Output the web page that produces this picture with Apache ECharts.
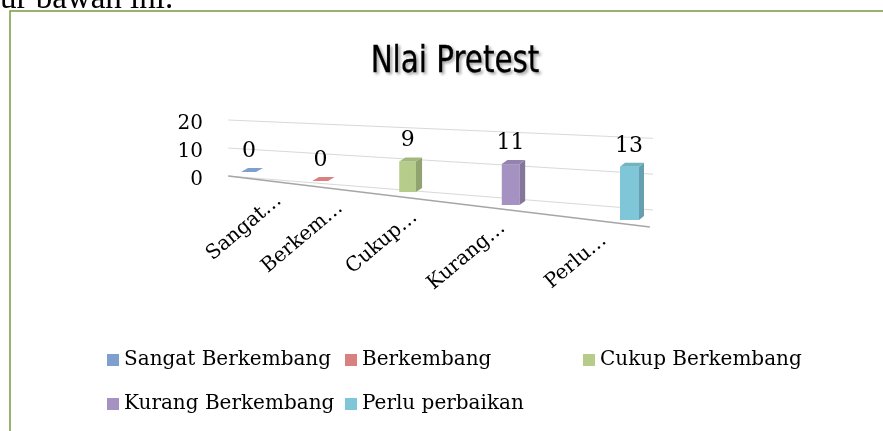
<!DOCTYPE html>
<html>
<head>
<meta charset="utf-8">
<title>Nlai Pretest</title>
<script src="https://cdn.jsdelivr.net/npm/echarts@6/dist/echarts.min.js"></script>
<style>
  html, body { margin: 0; padding: 0; background: #fff; }
  #chart { width: 883px; height: 431px; }
</style>
</head>
<body>
<div id="chart"></div>
<script>
  var categories = ['Sangat Berkembang', 'Berkembang', 'Cukup Berkembang', 'Kurang Berkembang', 'Perlu perbaikan'];
  var axisLabels = ['Sangat…', 'Berkem…', 'Cukup…', 'Kurang…', 'Perlu…'];
  var values = [0, 0, 9, 11, 13];
  var colors = ['#7f9fcf', '#d98080', '#b5cc8a', '#a592c2', '#7fc7d8'];
  var yTicks = [0, 10, 20];

  var serif = '"DejaVu Serif", "Liberation Serif", serif';

  function shade(hex, f) {
    var n = parseInt(hex.slice(1), 16);
    var r = Math.round(((n >> 16) & 255) * f), g = Math.round(((n >> 8) & 255) * f), b = Math.round((n & 255) * f);
    return 'rgb(' + r + ',' + g + ',' + b + ')';
  }

  // fake 3d perspective: bars get wider apart, lower and taller to the right
  function persp(api, idx) {
    var p0 = api.coord([0, 0]), p4 = api.coord([categories.length - 1, 0]);
    var span = p4[0] - p0[0];
    var t = (api.coord([idx, 0])[0] - p0[0]) / span;
    var tw = t + 0.33 * (t * t - t);
    return { x: p0[0] + span * tw, t: tw, base: p0[1] - 5 + 48 * tw, k: 1.04 + 0.42 * tw };
  }

  function renderBar(params, api) {
    var i = api.value(0), v = api.value(1);
    var p = persp(api, i);
    var h = (api.coord([i, 0])[1] - api.coord([i, v])[1]) * p.k;
    var fw = 15 + 4 * p.t, sw = 7 - 2 * p.t, dy = 4;
    var left = p.x - (fw + sw) / 2;
    var bottom = p.base, top = bottom - h;
    var c = colors[i];
    var kids = [];
    if (h > 0.5) {
      kids.push({ type: 'polygon', shape: { points: [[left, top], [left + fw, top], [left + fw, bottom], [left, bottom]] }, style: { fill: c } });
      kids.push({ type: 'polygon', shape: { points: [[left + fw, top], [left + fw + sw, top - dy], [left + fw + sw, bottom - dy], [left + fw, bottom]] }, style: { fill: shade(c, 0.8) } });
    }
    kids.push({ type: 'polygon', shape: { points: [[left, top], [left + fw, top], [left + fw + sw, top - dy], [left + sw, top - dy]] }, style: { fill: h > 0.5 ? shade(c, 0.9) : c } });
    kids.push({ type: 'text', x: p.x - 3, y: top - 21, style: { text: String(v), font: '22px ' + serif, align: 'center', verticalAlign: 'middle', fill: '#000' } });
    kids.push({ type: 'text', x: p.x + 27 - 55 * p.t, y: bottom + 26 - 8 * p.t, rotation: 40 * Math.PI / 180,
      style: { text: axisLabels[i], font: '20px ' + serif, align: 'right', verticalAlign: 'middle', fill: '#000' } });
    return { type: 'group', children: kids };
  }

  function renderWall(params, api) {
    var v = api.value(1);
    var n = categories.length - 1;
    var y0 = api.coord([0, 0])[1];
    var a = api.coord([-0.25, v]), b = api.coord([n + 0.22, v]);
    var yr = y0 - 1 + 34 - (y0 - a[1]) * 1.28;
    var kids = [{ type: 'line', shape: { x1: a[0], y1: a[1] - 1, x2: b[0], y2: yr }, style: { stroke: '#d9d9d9', lineWidth: 1 } }];
    if (v === 0) {
      kids.push({ type: 'line', shape: { x1: a[0], y1: a[1] - 1, x2: b[0] - 3, y2: y0 - 1 + 51 }, style: { stroke: '#a6a6a6', lineWidth: 1.5 } });
    }
    return { type: 'group', children: kids };
  }

  var series = [{
    type: 'custom', name: 'wall', z: 1, silent: true,
    data: yTicks.map(function (v) { return [0, v]; }),
    renderItem: renderWall
  }];
  categories.forEach(function (name, i) {
    series.push({
      type: 'custom', name: name, z: 3, silent: true,
      itemStyle: { color: colors[i] },
      data: [[i, values[i]]],
      renderItem: renderBar
    });
  });

  var chart = echarts.init(document.getElementById('chart'));
  chart.setOption({
    animation: false,
    backgroundColor: '#fff',
    legend: {
      data: categories, left: 107, top: 338, width: 720, padding: 0,
      itemGap: 0, itemWidth: 12, itemHeight: 12, icon: 'rect', selectedMode: false,
      textStyle: { fontFamily: serif, fontSize: 20, color: '#000', width: 221, lineHeight: 44 }
    },
    grid: { left: 252, width: 380, top: 121, height: 56 },
    xAxis: { type: 'value', min: 0, max: 4, show: false },
    yAxis: {
      type: 'value', min: 0, max: 20, interval: 10,
      axisLine: { show: false }, axisTick: { show: false }, splitLine: { show: false },
      axisLabel: { margin: 49, fontFamily: serif, fontSize: 20, color: '#000', lineHeight: 30, verticalAlign: 'top', padding: [-12, 0, 0, 0] }
    },
    graphic: [
      { type: 'rect', z: 0, shape: { x: 10, y: 11, width: 900, height: 440 }, style: { fill: 'none', stroke: '#7a9a3c', lineWidth: 1.5 } },
      { type: 'text', x: 0, y: 16, style: { text: 'ur bawah ini.', font: '33px "Liberation Serif", serif', verticalAlign: 'bottom', fill: '#000' } },
      { type: 'text', x: 455, y: 62, scaleX: 0.86,
        style: { text: 'Nlai Pretest', font: '38px "DejaVu Sans Condensed", sans-serif', align: 'center', verticalAlign: 'middle', fill: '#000',
          stroke: '#000', lineWidth: 0.3,
          textShadowColor: 'rgba(0,0,0,0.35)', textShadowBlur: 3, textShadowOffsetX: 2, textShadowOffsetY: 2 } }
    ],
    series: series
  });
</script>
</body>
</html>
